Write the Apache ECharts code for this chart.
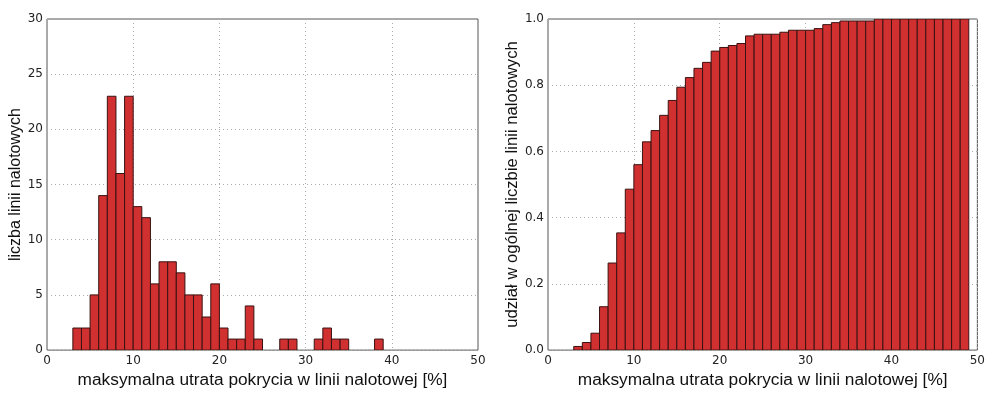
<!DOCTYPE html>
<html>
<head>
<meta charset="utf-8">
<script src="https://cdn.jsdelivr.net/npm/echarts@6/dist/echarts.min.js"></script>
<style>
html,body{margin:0;padding:0;background:#fff;}
#chart{width:988px;height:394px;}
</style>
</head>
<body>
<div id="chart"></div>
<script>
// Left histogram: bin start (width 1) and count of lines
const histBins = [3,4,5,6,7,8,9,10,11,12,13,14,15,16,17,18,19,20,21,22,23,24,25,26,27,28,29,30,31,32,33,34,35,36,37,38];
const histCounts = [2,2,5,14,23,16,23,13,12,6,8,8,7,5,5,3,6,2,1,1,4,1,0,0,1,1,0,0,1,2,1,1,0,0,0,1];

// Right cumulative histogram: bin start (width 1) and share of all lines
const cumBins = [3,4,5,6,7,8,9,10,11,12,13,14,15,16,17,18,19,20,21,22,23,24,25,26,27,28,29,30,31,32,33,34,35,36,37,38,39,40,41,42,43,44,45,46,47,48];
const cumShares = [0.011,0.023,0.051,0.131,0.263,0.354,0.486,0.560,0.629,0.663,0.709,0.754,0.794,0.823,0.851,0.869,0.903,0.914,0.920,0.926,0.949,0.954,0.954,0.954,0.960,0.966,0.966,0.966,0.971,0.983,0.989,0.994,0.994,0.994,0.994,1.0,1.0,1.0,1.0,1.0,1.0,1.0,1.0,1.0,1.0,1.0];

const xTicks = [0,10,20,30,40,50];
const xTitle = 'maksymalna utrata pokrycia w linii nalotowej [%]';
const yTitleLeft = 'liczba linii nalotowych';
const yTitleRight = 'udział w ogólnej liczbie linii nalotowych';

const BAR_FILL = '#d0302f';
const BAR_EDGE = '#3a1212';

function renderBar(params, api) {
  const x0 = api.value(0), x1 = api.value(1), v = api.value(2);
  if (!v) return null;
  const p0 = api.coord([x0, 0]);
  const p1 = api.coord([x1, v]);
  return {
    type: 'rect',
    shape: {x: p0[0], y: p1[1], width: p1[0] - p0[0], height: p0[1] - p1[1]},
    style: {fill: BAR_FILL, stroke: BAR_EDGE, lineWidth: 1}
  };
}

const histData = histBins.map((b, i) => [b, b + 1, histCounts[i]]);
const cumData = cumBins.map((b, i) => [b, b + 1, cumShares[i]]);

const tickFont = {fontFamily: 'DejaVu Sans', fontSize: 12, color: '#222'};
const titleFont = {fontFamily: 'Liberation Sans', fontSize: 16, color: '#111'};
const split = {show: true, lineStyle: {type: [1, 3], color: '#aaa', width: 1}};

function xAxis(idx) {
  return {
    type: 'value', gridIndex: idx, min: 0, max: 50, interval: 10,
    axisLine: {show: false}, axisTick: {show: false},
    axisLabel: Object.assign({margin: 5}, tickFont),
    splitLine: split,
    name: xTitle, nameLocation: 'middle', nameGap: 19,
    nameTextStyle: Object.assign({}, titleFont, {fontSize: 17.3})
  };
}

const chart = echarts.init(document.getElementById('chart'), null, {renderer: 'canvas'});
chart.setOption({
  animation: false,
  backgroundColor: '#fff',
  grid: [
    {left: 47, top: 19, width: 431, height: 338, show: true, borderColor: '#555', borderWidth: 1, backgroundColor: 'transparent'},
    {left: 548, top: 19, width: 433, height: 338, show: true, borderColor: '#555', borderWidth: 1, backgroundColor: 'transparent'}
  ],
  xAxis: [xAxis(0), xAxis(1)],
  yAxis: [
    {
      type: 'value', gridIndex: 0, min: 0, max: 30, interval: 5,
      axisLine: {show: false}, axisTick: {show: false},
      axisLabel: Object.assign({margin: 4}, tickFont),
      splitLine: split,
      name: yTitleLeft, nameLocation: 'middle', nameGap: 22, nameRotate: 90,
      nameTextStyle: titleFont
    },
    {
      type: 'value', gridIndex: 1, min: 0, max: 1, interval: 0.2,
      axisLine: {show: false}, axisTick: {show: false},
      axisLabel: Object.assign({margin: 4, formatter: v => v.toFixed(1)}, tickFont),
      splitLine: split,
      name: yTitleRight, nameLocation: 'middle', nameGap: 26, nameRotate: 90,
      nameTextStyle: Object.assign({}, titleFont, {fontSize: 16.7})
    }
  ],
  series: [
    {type: 'custom', xAxisIndex: 0, yAxisIndex: 0, renderItem: renderBar, data: histData, encode: {x: [0, 1], y: 2}, clip: true},
    {type: 'custom', xAxisIndex: 1, yAxisIndex: 1, renderItem: renderBar, data: cumData, encode: {x: [0, 1], y: 2}, clip: true}
  ]
});
</script>
</body>
</html>
